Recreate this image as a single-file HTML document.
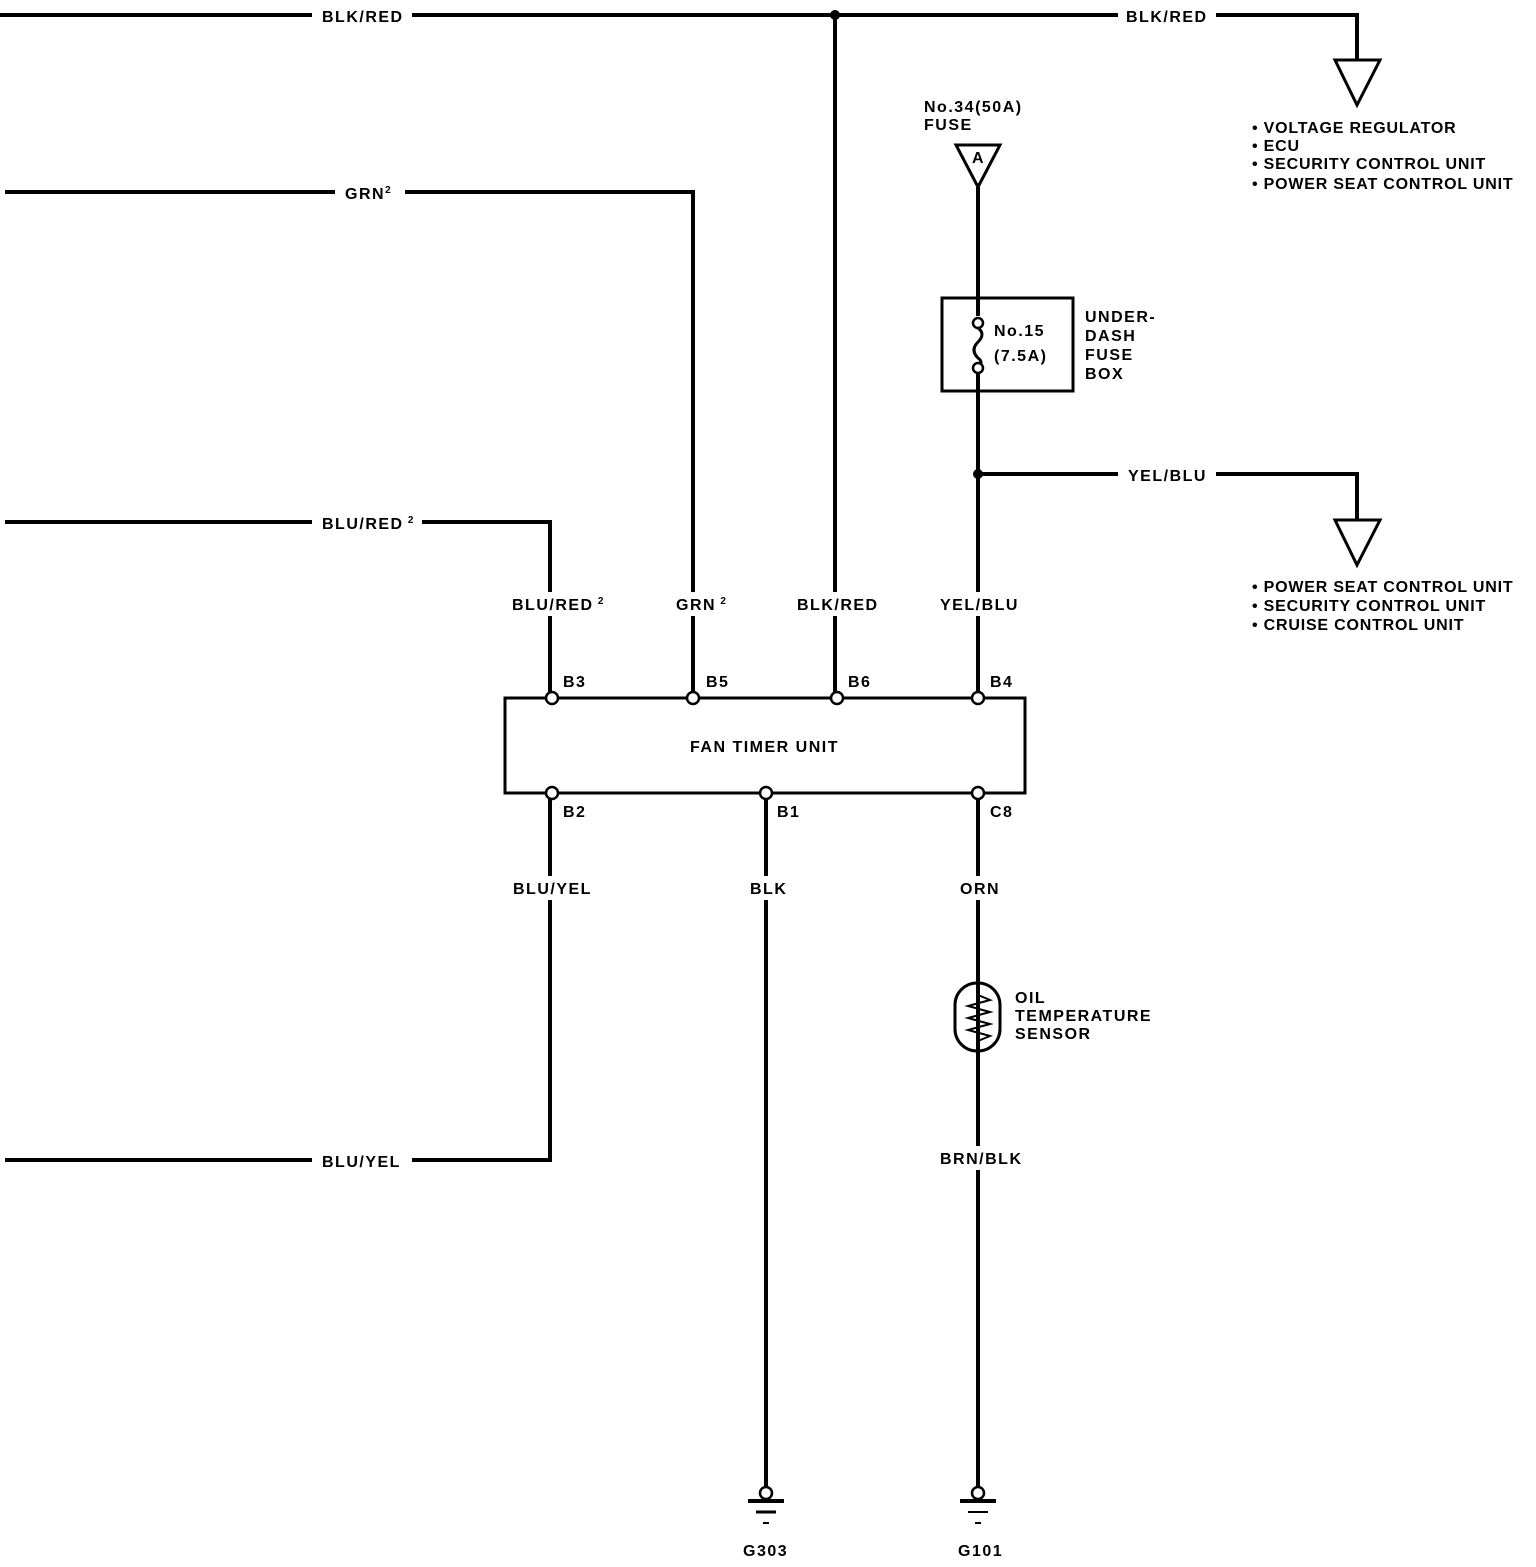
<!DOCTYPE html>
<html><head><style>
html,body{margin:0;padding:0;background:#fff}
svg text{font-family:"Liberation Sans",sans-serif;font-weight:bold;font-size:16px;fill:#000;letter-spacing:1.5px}
svg text.l{letter-spacing:0.8px}
</style></head><body>
<svg width="1536" height="1562" viewBox="0 0 1536 1562" xmlns="http://www.w3.org/2000/svg">
<g stroke="#000" stroke-width="4" fill="none">
<polyline points="0,15 1357,15 1357,60"/>
<polygon points="1335,60 1380,60 1357,105" stroke-width="3"/>
<line x1="835" y1="15" x2="835" y2="698"/>
<polyline points="5,192 693,192 693,698"/>
<polyline points="5,522 550,522 550,698"/>
<polyline points="5,1160 550,1160 550,793"/>
<rect x="505" y="698" width="520" height="95" stroke-width="3"/>
<polygon points="956,145 1000,145 978,187" stroke-width="3"/>
<line x1="978" y1="187" x2="978" y2="316"/>
<rect x="942" y="298" width="131" height="93" stroke-width="3"/>
<line x1="978" y1="372" x2="978" y2="698"/>
<path d="M978,328 q8,6 0,14 q-8,8 0,16 q6,4 0,10" stroke-width="3"/>
<polyline points="978,474 1357,474 1357,520"/>
<polygon points="1335,520 1380,520 1357,565" stroke-width="3"/>
<line x1="766" y1="793" x2="766" y2="1488"/>
<line x1="978" y1="793" x2="978" y2="1488"/>
<rect x="955" y="983" width="45" height="68" rx="22" stroke-width="3"/>
<polyline points="978,995 990,1000 968,1006 990,1012 968,1018 990,1024 968,1030 990,1036 978,1041" stroke-width="2"/>
</g>
<g fill="#000">
<circle cx="835" cy="15" r="5"/><circle cx="978" cy="474" r="5"/>
</g>
<g stroke="#000" stroke-width="2.5" fill="#fff">
<circle cx="552" cy="698" r="6"/><circle cx="693" cy="698" r="6"/><circle cx="837" cy="698" r="6"/><circle cx="978" cy="698" r="6"/>
<circle cx="552" cy="793" r="6"/><circle cx="766" cy="793" r="6"/><circle cx="978" cy="793" r="6"/>
<circle cx="978" cy="323" r="5"/><circle cx="978" cy="368" r="5"/>
<circle cx="766" cy="1493" r="6"/><circle cx="978" cy="1493" r="6"/>
</g>
<g stroke="#000" fill="none">
<line x1="748" y1="1501" x2="784" y2="1501" stroke-width="4"/>
<line x1="756" y1="1512" x2="776" y2="1512" stroke-width="3"/>
<line x1="763" y1="1523" x2="769" y2="1523" stroke-width="2"/>
<line x1="960" y1="1501" x2="996" y2="1501" stroke-width="4"/>
<line x1="968" y1="1512" x2="988" y2="1512" stroke-width="2"/>
<line x1="975" y1="1523" x2="981" y2="1523" stroke-width="2"/>
</g>
<g fill="#fff">
<rect x="312" y="5" width="100" height="22"/><rect x="1118" y="5" width="98" height="22"/>
<rect x="335" y="182" width="70" height="22"/><rect x="312" y="512" width="110" height="22"/>
<rect x="312" y="1150" width="100" height="22"/><rect x="1118" y="464" width="98" height="22"/>
<rect x="505" y="592" width="100" height="24"/><rect x="670" y="592" width="60" height="24"/>
<rect x="790" y="592" width="95" height="24"/><rect x="935" y="592" width="90" height="24"/>
<rect x="505" y="876" width="95" height="24"/><rect x="745" y="876" width="45" height="24"/>
<rect x="955" y="876" width="48" height="24"/><rect x="935" y="1146" width="92" height="24"/>
</g>
<text x="322" y="22">BLK/RED</text>
<text x="1126" y="22">BLK/RED</text>
<text x="345" y="199">GRN<tspan font-size="10" dy="-6">2</tspan></text>
<text x="322" y="529">BLU/RED<tspan font-size="10" dy="-6"> 2</tspan></text>
<text x="322" y="1167">BLU/YEL</text>
<text x="1128" y="481">YEL/BLU</text>
<text x="512" y="610">BLU/RED<tspan font-size="10" dy="-6"> 2</tspan></text>
<text x="676" y="610">GRN<tspan font-size="10" dy="-6"> 2</tspan></text>
<text x="797" y="610">BLK/RED</text>
<text x="940" y="610">YEL/BLU</text>
<text x="563" y="687">B3</text><text x="706" y="687">B5</text><text x="848" y="687">B6</text><text x="990" y="687">B4</text>
<text x="563" y="817">B2</text><text x="777" y="817">B1</text><text x="990" y="817">C8</text>
<text x="690" y="752">FAN TIMER UNIT</text>
<text x="513" y="894">BLU/YEL</text>
<text x="750" y="894">BLK</text>
<text x="960" y="894">ORN</text>
<text x="940" y="1164">BRN/BLK</text>
<text x="924" y="112">No.34(50A)</text>
<text x="924" y="130">FUSE</text>
<text x="972" y="163" font-size="12">A</text>
<text x="994" y="336">No.15</text>
<text x="994" y="361">(7.5A)</text>
<text x="1085" y="322">UNDER-</text><text x="1085" y="341">DASH</text><text x="1085" y="360">FUSE</text><text x="1085" y="379">BOX</text>
<text x="1015" y="1003">OIL</text><text x="1015" y="1021">TEMPERATURE</text><text x="1015" y="1039">SENSOR</text>
<text class="l" x="1252" y="133">• VOLTAGE REGULATOR</text>
<text class="l" x="1252" y="151">• ECU</text>
<text class="l" x="1252" y="169">• SECURITY CONTROL UNIT</text>
<text class="l" x="1252" y="189">• POWER SEAT CONTROL UNIT</text>
<text class="l" x="1252" y="592">• POWER SEAT CONTROL UNIT</text>
<text class="l" x="1252" y="611">• SECURITY CONTROL UNIT</text>
<text class="l" x="1252" y="630">• CRUISE CONTROL UNIT</text>
<text x="743" y="1556">G303</text>
<text x="958" y="1556">G101</text>
</svg>
</body></html>
